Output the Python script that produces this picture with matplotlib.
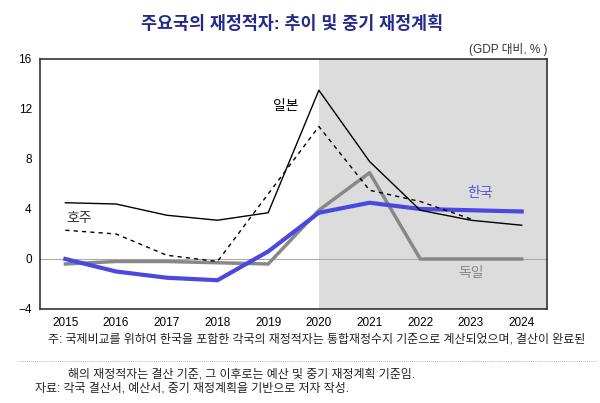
import matplotlib.pyplot as plt
from matplotlib.lines import Line2D

plt.rcParams['font.family'] = ['Liberation Sans', 'Noto Sans CJK KR']

years = [2015, 2016, 2017, 2018, 2019, 2020, 2021, 2022, 2023, 2024]
japan = [4.5, 4.4, 3.5, 3.1, 3.7, 13.5, 7.8, 3.9, 3.1, 2.7]
australia = [2.3, 2.0, 0.3, -0.2, 5.2, 10.6, 5.5, 4.6, 3.2]
korea = [0.0, -1.0, -1.5, -1.7, 0.6, 3.7, 4.5, 4.0, 3.9, 3.8]
germany = [-0.4, -0.2, -0.2, -0.3, -0.4, 3.9, 6.9, 0.0, 0.0, 0.0]

fig = plt.figure(figsize=(6, 4.03), dpi=100)
ax = fig.add_axes([0.0667, 0.2333, 0.845, 0.6203])

ax.axvspan(2020, 2024.5, color='#dcdcdc', zorder=0, lw=0)
ax.axhline(0, color='#aaaaaa', lw=0.8, zorder=1)

ax.plot(years, germany, color='#888888', lw=2.5, zorder=2)
ax.plot(years, korea, color='#4b48e0', lw=3, zorder=3)
ax.plot(years[:len(australia)], australia, color='black', lw=1, ls=(0, (3, 3)), zorder=4)
ax.plot(years, japan, color='black', lw=1, zorder=5)

ax.text(2019.35, 12.2, '일본', fontsize=10, color='black', ha='center', va='center')
ax.text(2015.26, 3.3, '호주', fontsize=10, color='#333333', ha='center', va='center')
ax.text(2023.17, 5.3, '한국', fontsize=10, color='#5a58d0', ha='center', va='center')
ax.text(2023.0, -1.1, '독일', fontsize=10, color='#888888', ha='center', va='center')

ax.set_xlim(2014.5, 2024.5)
ax.set_ylim(-4, 16)
ax.set_xticks(years)
ax.set_yticks([-4, 0, 4, 8, 12, 16])
ax.tick_params(length=0, labelsize=8.5, pad=6)
for s in ax.spines.values():
    s.set_color('#333333')
    s.set_linewidth(1.2)

fig.text(0.487, 0.943, '주요국의 재정적자: 추이 및 중기 재정계획', fontsize=12.5, fontweight='bold',
         color='#232a8c', ha='center', va='center')
fig.text(0.912, 0.878, '(GDP 대비, % )', fontsize=8.5, color='#333333', ha='right', va='center')

fig.text(0.08, 0.157, '주: 국제비교를 위하여 한국을 포함한 각국의 재정적자는 통합재정수지 기준으로 계산되었으며, 결산이 완료된',
         fontsize=8.6, color='#222222', va='center')
fig.add_artist(Line2D([0.03, 0.995], [0.105, 0.105], color='#999999', lw=0.6, ls=(0, (1, 1.5))))
fig.text(0.113, 0.07, '해의 재정적자는 결산 기준, 그 이후로는 예산 및 중기 재정계획 기준임.',
         fontsize=8.6, color='#222222', va='center')
fig.text(0.058, 0.037, '자료: 각국 결산서, 예산서, 중기 재정계획을 기반으로 저자 작성.',
         fontsize=8.6, color='#222222', va='center')

fig.savefig('out.png', dpi=100)
